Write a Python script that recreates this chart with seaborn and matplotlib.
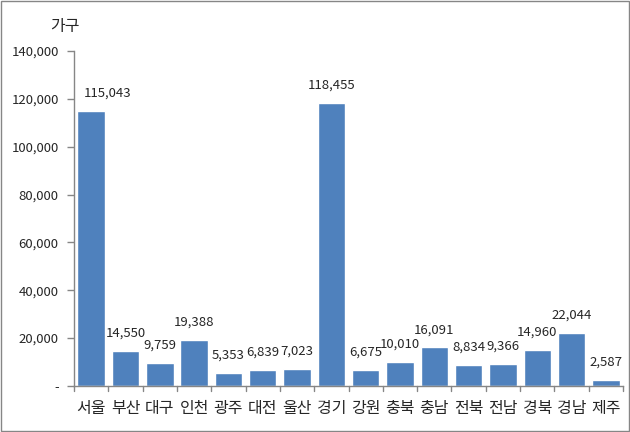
import matplotlib
matplotlib.use("Agg")
import matplotlib.pyplot as plt
import matplotlib.transforms as mtransforms
from matplotlib.lines import Line2D
from matplotlib.patches import Rectangle
import seaborn as sns
import pandas as pd

regions = ["서울", "부산", "대구", "인천", "광주", "대전", "울산", "경기", "강원",
           "충북", "충남", "전북", "전남", "경북", "경남", "제주"]
values = [115043, 14550, 9759, 19388, 5353, 6839, 7023, 118455, 6675,
          10010, 16091, 8834, 9366, 14960, 22044, 2587]
yticks = [0, 20000, 40000, 60000, 80000, 100000, 120000, 140000]
ytick_labels = ["-", "20,000", "40,000", "60,000", "80,000", "100,000", "120,000", "140,000"]
unit_label = "가구"

sns.set_style("white")
plt.rcParams['font.family'] = ['Noto Sans CJK KR', 'DejaVu Sans']

df = pd.DataFrame({"region": regions, "value": values})

fig = plt.figure(figsize=(6.3, 4.32), dpi=100)
ax = fig.add_axes([0.1175, 0.1065, 0.8715, 0.7755])
sns.barplot(data=df, x="region", y="value", color="#4F81BD", width=0.8,
            saturation=1, ax=ax)

ax.set_ylim(0, 140000)
ax.set_xlim(-0.5, len(regions) - 0.5)
ax.set_yticks(yticks)
ax.set_yticklabels(ytick_labels, fontsize=9.5)
ax.set_xlabel("")
ax.set_ylabel("")
ax.tick_params(axis="x", labelsize=11.5, length=0, pad=10)
ax.tick_params(axis="y", length=5, color="#868686", direction="out", width=1, pad=6, left=True)

# x-axis ticks between categories
trans = mtransforms.blended_transform_factory(ax.transData, ax.transAxes)
for i in range(len(regions) + 1):
    ln = Line2D([i - 0.5, i - 0.5], [0, -0.016], color="#868686", lw=1,
                transform=trans, clip_on=False)
    ax.add_line(ln)

for s in ["top", "right"]:
    ax.spines[s].set_visible(False)
for s in ["left", "bottom"]:
    ax.spines[s].set_color("#868686")
    ax.spines[s].set_linewidth(1)

for i, v in enumerate(values):
    dx = 12 if i == 0 else 0
    ax.annotate(f"{v:,}", (i, v), xytext=(dx, 8), textcoords="offset points",
                ha="center", va="bottom", fontsize=9.5)

fig.text(0.080, 0.938, unit_label, fontsize=11.5, ha="left", va="center")

fig.patches.append(Rectangle((0.0008, 0.0012), 0.9984, 0.9976, transform=fig.transFigure,
                             fill=False, edgecolor="#868686", lw=1))

fig.savefig("out.png", dpi=100)
